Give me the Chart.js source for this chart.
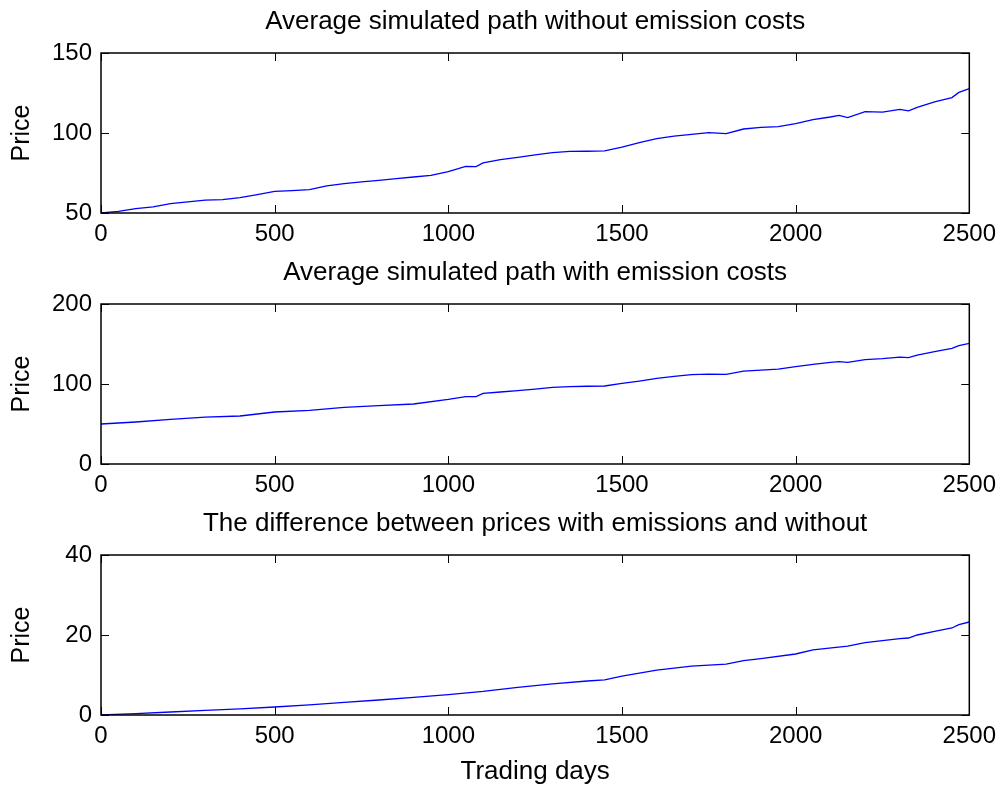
<!DOCTYPE html>
<html>
<head>
<meta charset="utf-8">
<script src="https://cdn.jsdelivr.net/npm/chart.js@4.4.1/dist/chart.umd.min.js"></script>
<style>
    html, body { margin: 0; padding: 0; background: #fff; overflow: hidden; }
    .painel { position: absolute; left: 0; width: 1003px; }
</style>
</head>
<body>
<div class="painel" style="top:0px;height:250px"><canvas id="ChartSemCusto"></canvas></div>
<div class="painel" style="top:251px;height:250px"><canvas id="ChartComCusto"></canvas></div>
<div class="painel" style="top:502px;height:283px"><canvas id="ChartDiferenca"></canvas></div>

<script>

/// DADOS

const xTicks = [0, 500, 1000, 1500, 2000, 2500];

const daysNoCost = [0, 50, 100, 150, 200, 250, 300, 350, 400, 450, 500, 550, 600, 650, 700, 750, 800, 850, 900, 950,
    1000, 1050, 1080, 1100, 1150, 1200, 1250, 1300, 1350, 1400, 1450, 1500, 1550, 1600, 1650, 1700, 1750, 1800,
    1850, 1900, 1950, 2000, 2050, 2100, 2125, 2150, 2200, 2250, 2300, 2325, 2350, 2400, 2450, 2470, 2500];
const pathNoCost = [50, 51, 52.7, 53.8, 55.8, 57, 58.1, 58.3, 59.6, 61.5, 63.5, 64, 64.6, 66.9, 68.3, 69.5, 70.4, 71.5, 72.5, 73.5,
    75.8, 79.2, 79, 81.3, 83.3, 84.8, 86.3, 87.7, 88.5, 88.6, 88.8, 91.2, 94, 96.5, 98, 99.2, 100.2, 99.6,
    102.5, 103.5, 104, 105.8, 108.3, 110, 111, 109.6, 113.3, 113.1, 114.8, 113.8, 116, 119.5, 122.1, 125.4, 127.7];
const yTicksNoCost = [50, 100, 150];

const daysWithCost = [0, 100, 200, 300, 400, 500, 600, 700, 800, 900, 1000, 1050, 1080, 1100, 1150, 1200, 1250, 1300,
    1350, 1400, 1450, 1500, 1550, 1600, 1650, 1700, 1750, 1800, 1850, 1900, 1950, 2000, 2050, 2100, 2125, 2150,
    2200, 2250, 2300, 2325, 2350, 2400, 2450, 2470, 2500];
const pathWithCost = [50, 52.5, 55.8, 58.7, 60, 65, 67, 70.8, 73, 75, 80.8, 84.2, 84.2, 88.3, 90, 91.7, 93.6, 95.8,
    96.7, 97.2, 97.5, 100.8, 103.7, 107, 109.5, 111.7, 112.3, 112, 116, 117.3, 118.5, 121.7, 124.6, 127, 127.9, 127,
    130.5, 131.7, 133.7, 132.9, 136, 140.5, 144.6, 148, 150.8];
const yTicksWithCost = [0, 100, 200];

const daysDiff = [0, 100, 200, 300, 400, 500, 600, 700, 800, 900, 1000, 1100, 1200, 1300, 1400, 1450, 1500, 1600,
    1700, 1800, 1850, 1900, 2000, 2050, 2150, 2200, 2300, 2325, 2350, 2400, 2450, 2470, 2500];
const pathDiff = [0, 0.35, 0.75, 1.15, 1.55, 2.0, 2.55, 3.15, 3.75, 4.4, 5.1, 5.9, 6.9, 7.8, 8.5, 8.8, 9.7, 11.2,
    12.2, 12.7, 13.6, 14.1, 15.25, 16.3, 17.2, 18.1, 19.1, 19.25, 20, 20.9, 21.75, 22.6, 23.25];
const yTicksDiff = [0, 20, 40];


const fonte = '"Liberation Sans", Arial, Helvetica, sans-serif';

// moldura e marcas para dentro, estilo matlab
const moldura = {
    id: 'moldura',
    afterDraw(chart) {
        const ctx = chart.ctx;
        const a = chart.chartArea;
        const sx = chart.scales.x;
        const sy = chart.scales.y;
        const len = 8;
        ctx.save();
        ctx.strokeStyle = '#000';
        ctx.lineWidth = 1;
        sx.ticks.forEach(function (t) {
            const px = Math.round(sx.getPixelForValue(t.value)) + 0.5;
            ctx.beginPath();
            ctx.moveTo(px, a.bottom); ctx.lineTo(px, a.bottom - len);
            ctx.moveTo(px, a.top); ctx.lineTo(px, a.top + len);
            ctx.stroke();
        });
        sy.ticks.forEach(function (t) {
            const py = Math.round(sy.getPixelForValue(t.value)) + 0.5;
            ctx.beginPath();
            ctx.moveTo(a.left, py); ctx.lineTo(a.left + len, py);
            ctx.moveTo(a.right, py); ctx.lineTo(a.right - len, py);
            ctx.stroke();
        });
        ctx.lineWidth = 1.5;
        ctx.strokeRect(a.left, a.top, a.right - a.left, a.bottom - a.top);
        ctx.restore();
    }
};

function grafico(id, titulo, dias, valores, yTicks, alturaX, tituloX) {
    const el = document.getElementById(id);
    if (!el) return;

    const pontos = dias.map(function (d, i) { return { x: d, y: valores[i] }; });

    new Chart(el, {
        type: 'line',
        data: {
            datasets: [{
                label: '',
                data: pontos,
                borderColor: '#0000ff',
                borderWidth: 1.3,
                pointRadius: 0,
                tension: 0,
                fill: false
            }]
        },
        options: {
            responsive: true,
            maintainAspectRatio: false,
            animation: false,
            events: [],
            layout: { padding: { left: 0, right: 32, top: 0, bottom: 0 } },
            plugins: {
                legend: { display: false },
                tooltip: { enabled: false },
                title: {
                    display: true,
                    fullSize: false, // centraliza sobre a área do gráfico
                    text: titulo,
                    color: '#000',
                    font: { family: fonte, size: 26, weight: 'normal', lineHeight: 1.2 },
                    padding: { top: 6, bottom: 15.8 }
                }
            },
            scales: {
                x: {
                    type: 'linear',
                    min: 0,
                    max: 2500,
                    grid: { display: false, drawTicks: false },
                    border: { display: false },
                    afterBuildTicks: function (s) { s.ticks = xTicks.map(function (v) { return { value: v }; }); },
                    afterFit: function (s) { s.height = alturaX; },
                    ticks: {
                        color: '#000',
                        padding: 7,
                        autoSkip: false,
                        maxRotation: 0,
                        font: { family: fonte, size: 24 },
                        callback: function (v) { return String(v); }
                    },
                    title: {
                        display: !!tituloX,
                        text: tituloX || '',
                        color: '#000',
                        font: { family: fonte, size: 26, lineHeight: 1 },
                        padding: { top: 0, bottom: 0 }
                    }
                },
                y: {
                    min: yTicks[0],
                    max: yTicks[yTicks.length - 1],
                    grid: { display: false, drawTicks: false },
                    border: { display: false },
                    afterBuildTicks: function (s) { s.ticks = yTicks.map(function (v) { return { value: v }; }); },
                    afterFit: function (s) { s.width = 101; },
                    ticks: {
                        color: '#000',
                        padding: 9,
                        font: { family: fonte, size: 24 },
                        callback: function (v) { return String(v); }
                    },
                    title: {
                        display: true,
                        text: 'Price',
                        color: '#000',
                        font: { family: fonte, size: 25, lineHeight: 1.2 },
                        padding: { top: 7, bottom: 0 }
                    }
                }
            }
        },
        plugins: [moldura]
    });
}


/// GRÁFICOS

grafico('ChartSemCusto', 'Average simulated path without emission costs', daysNoCost, pathNoCost, yTicksNoCost, 37, null);

grafico('ChartComCusto', 'Average simulated path with emission costs', daysWithCost, pathWithCost, yTicksWithCost, 37, null);

grafico('ChartDiferenca', 'The difference between prices with emissions and without', daysDiff, pathDiff, yTicksDiff, 70, 'Trading days');

</script>
</body>
</html>
